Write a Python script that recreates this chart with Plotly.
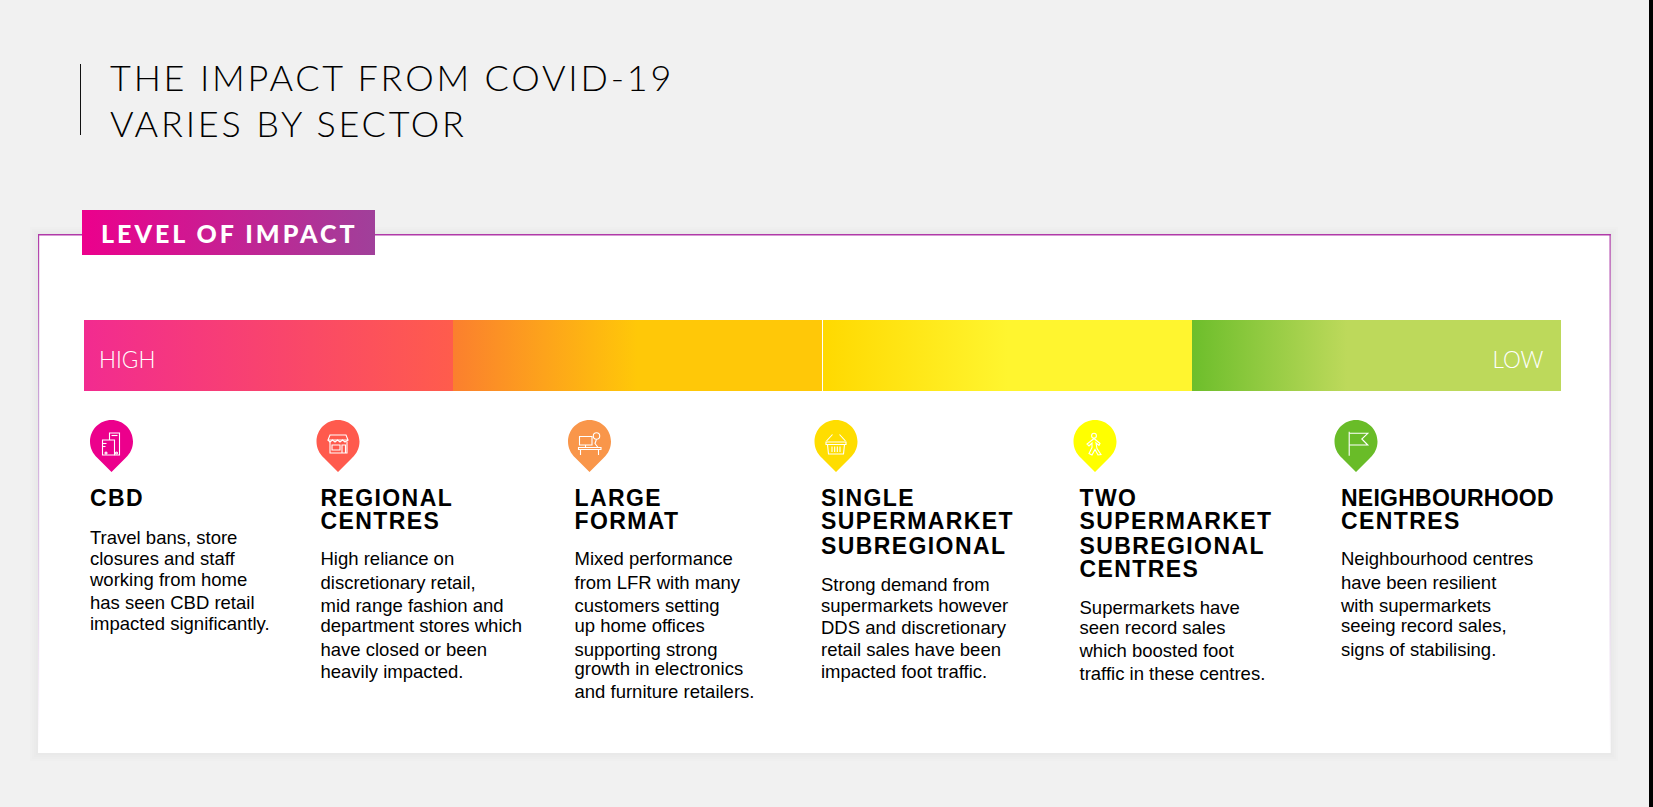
import plotly.graph_objects as go

# page is laid out in screenshot pixels
W = 1653
H = 807

title_lines = ["THE IMPACT FROM COVID-19", "VARIES BY SECTOR"]
tag_label = "LEVEL OF IMPACT"
scale_labels = ["HIGH", "LOW"]

sectors = [
    ["CBD"],
    ["REGIONAL", "CENTRES"],
    ["LARGE", "FORMAT"],
    ["SINGLE", "SUPERMARKET", "SUBREGIONAL"],
    ["TWO", "SUPERMARKET", "SUBREGIONAL", "CENTRES"],
    ["NEIGHBOURHOOD", "CENTRES"],
]
descriptions = [
    ["Travel bans, store", "closures and staff", "working from home", "has seen CBD retail", "impacted significantly."],
    ["High reliance on", "discretionary retail,", "mid range fashion and", "department stores which", "have closed or been", "heavily impacted."],
    ["Mixed performance", "from LFR with many", "customers setting", "up home offices", "supporting strong", "growth in electronics", "and furniture retailers."],
    ["Strong demand from", "supermarkets however", "DDS and discretionary", "retail sales have been", "impacted foot traffic."],
    ["Supermarkets have", "seen record sales", "which boosted foot", "traffic in these centres."],
    ["Neighbourhood centres", "have been resilient", "with supermarkets", "seeing record sales,", "signs of stabilising."],
]
pin_colours = ["#EC008C", "#FF5A4D", "#F9964A", "#FFDD00", "#FFFF00", "#69BC28"]
icon_names = ["phones", "store", "desk", "basket", "walker", "flag"]

# positions
pin_x = [111.5, 338, 589.5, 836, 1095, 1356]
text_x = [90, 320.5, 574.5, 821, 1079.5, 1341]
heading_base = [506, 529, 554, 577]
body_base = [
    [543.5, 564.5, 585.5, 608.5, 629.5],
    [564.5, 588.5, 611.5, 631.5, 655.5, 677.5],
    [564.5, 588.5, 611.5, 631.5, 655.5, 674.5, 697.5],
    [590.5, 611.5, 633.5, 655.5, 677.5],
    [613.5, 633.5, 656.5, 679.5],
    [564.5, 588.5, 611.5, 631.5, 655.5],
]

# scale bar: left edge, right edge, start colour, end colour, where the ramp ends
bar_edges = [84, 453, 823, 1192, 1561]
bar_from = ["#F22B90", "#FB7F2E", "#FFD900", "#6DBE2B"]
bar_to = ["#FF5C4C", "#FFC808", "#FFF52F", "#BDD95B"]
bar_ramp = [1.0, 0.5, 0.5, 0.42]

TITLE_SIZE = 36
TAG_SIZE = 25
SCALE_SIZE = 22.5
HEAD_SIZE = 23
BODY_SIZE = 18.5
TRACKING = {TITLE_SIZE: 2.8, TAG_SIZE: 3.0, HEAD_SIZE: 1.4}
WIDE_WORD_TRACKING = {"NEIGHBOURHOOD": 0.25}
CARD_BOTTOM = 753

fig = go.Figure()


def add_fill(x0, y0, x1, y1, gradient):
    fig.add_trace(go.Scatter(
        x=[x0, x1, x1, x0, x0], y=[y0, y0, y1, y1, y0],
        mode="lines", line=dict(width=0), fill="toself", fillgradient=gradient,
        hoverinfo="skip", showlegend=False))


def add_text(xs, bases, labels, size, colour, family, weight):
    fig.add_trace(go.Scatter(
        x=xs, y=[b - 0.25 * size for b in bases], text=labels,
        mode="text", textposition="middle right",
        textfont=dict(size=size, color=colour, family=family, weight=weight),
        hoverinfo="skip", showlegend=False))


def pin_path(cx):
    # teardrop: round head on top, straight sides down to the tip
    r = 21.5
    cy = 441.5
    k = r * 0.552
    return (f"M {cx} 472 L {cx - 14} 458 "
            f"C {cx - 19} {cy + 12} {cx - r} {cy + 6} {cx - r} {cy} "
            f"C {cx - r} {cy - k} {cx - k} {cy - r} {cx} {cy - r} "
            f"C {cx + k} {cy - r} {cx + r} {cy - k} {cx + r} {cy} "
            f"C {cx + r} {cy + 6} {cx + 19} {cy + 12} {cx + 14} 458 Z")


def poly(points, closed=False):
    s = "M " + " L ".join(f"{x} {y}" for x, y in points)
    return s + (" Z" if closed else "")


def ring(x, y, r):
    k = r * 0.552
    return (f"M {x - r} {y} C {x - r} {y - k} {x - k} {y - r} {x} {y - r} "
            f"C {x + k} {y - r} {x + r} {y - k} {x + r} {y} "
            f"C {x + r} {y + k} {x + k} {y + r} {x} {y + r} "
            f"C {x - k} {y + r} {x - r} {y + k} {x - r} {y} Z")


# icon outlines, relative to the centre of the pin head
ICONS = {
    "phones": [
        poly([(-2, -1.5), (-9, -1.5), (-9, 13.5), (3, 13.5), (3, -1.5), (-2, -1.5)]),
        poly([(-2, -1.5), (-2, -8.5), (8, -8.5), (8, 13.5), (3, 13.5)]),
        poly([(0, -6), (6, -6)]), poly([(-9, 2), (-5, 2)]), poly([(-9, 5), (-6, 5)]),
        ring(-5.5, 11.5, 1), ring(5, 11.5, 1),
    ],
    "store": [
        poly([(-8, -6.5), (8, -6.5), (10, -1.5), (-10, -1.5)], True),
        poly([(-8, 0), (-8, 11.5), (9, 11.5), (9, 0)]),
        poly([(-10, -1.5), (-8, 0.5), (-5.5, -1.5), (-3, 0.5), (-0.5, -1.5), (2, 0.5), (4.5, -1.5), (7, 0.5), (10, -1.5)]),
        poly([(-6, 3.5), (2, 3.5), (2, 8.5), (-6, 8.5)], True),
        poly([(4, 11.5), (4, 3.5), (7.5, 3.5), (7.5, 11.5)]),
    ],
    "desk": [
        poly([(-10, -5), (2.5, -5), (2.5, 3.5), (-10, 3.5)], True),
        poly([(-4, 3.5), (-4, 6)]),
        poly([(-11, 6), (11.5, 6), (11.5, 8), (-11, 8)], True),
        poly([(-9, 8), (-9, 13.5)]), poly([(9, 8), (9, 13.5)]),
        ring(7, -5.5, 3.2),
        poly([(7, -2.3), (5.5, 2), (8.5, 6)]),
    ],
    "basket": [
        poly([(-3.5, -7), (-9.5, -0.5)]), poly([(3.5, -7), (9.5, -0.5)]),
        poly([(-10, 0.5), (10, 0.5), (10, 3), (-10, 3)], True),
        poly([(-8.5, 3), (-7.5, 12.5), (7.5, 12.5), (8.5, 3)]),
        poly([(-4, 5), (-4, 10.5)]), poly([(-1.3, 5), (-1.3, 10.5)]),
        poly([(1.3, 5), (1.3, 10.5)]), poly([(4, 5), (4, 10.5)]),
    ],
    "walker": [
        ring(-1, -5.8, 2.4),
        poly([(-1, -3), (5, 2), (4, 4), (1, 1.5), (2, 7), (6, 13), (3, 13.5), (0, 8),
              (-3, 13.5), (-6, 12), (-3, 6), (-3, 1.5), (-6, 4.5), (-8, 2.5)], True),
    ],
    "flag": [
        poly([(-6.8, -9.8), (-6.8, 14.2)]),
        poly([(-6.8, -8.2), (11.8, -8.2), (5.8, -2.5), (11.8, 3.5), (-6.8, 3.5)]),
    ],
}


def shifted(path, dx, dy):
    # move an icon path from pin-relative to page coordinates
    out = []
    is_x = True
    for t in path.split():
        if t.isalpha():
            out.append(t)
            is_x = True
        else:
            out.append(str(float(t) + (dx if is_x else dy)))
            is_x = not is_x
    return " ".join(out)


shapes = []
# soft shadow round the card, then the card
for grow in [8, 6, 4, 2]:
    shapes.append(dict(type="rect", x0=38 - grow, x1=1610 + grow, y0=235 - grow, y1=CARD_BOTTOM + grow,
                       fillcolor="rgba(0,0,0,0.007)", line_width=0, layer="below"))
shapes.append(dict(type="rect", x0=38, x1=1610, y0=235, y1=CARD_BOTTOM, fillcolor="#FFFFFF", line_width=0, layer="below"))
# rule beside the title
shapes.append(dict(type="rect", x0=80, x1=81, y0=64, y1=135, fillcolor="#111111", line_width=0, layer="below"))
# dark strip on the right of the page
shapes.append(dict(type="rect", x0=1649, x1=W, y0=0, y1=H, fillcolor="#000000", line_width=0, layer="below"))

# card border fades out towards the bottom
side_fade = dict(type="vertical", start=234, stop=CARD_BOTTOM,
                 colorscale=[[0, "#B03AA8"], [0.3, "#C9A0D5"], [0.7, "#E6D4EC"], [1, "#FFFFFF"]])
add_fill(38, 234, 39.2, CARD_BOTTOM, side_fade)
add_fill(1609.5, 234, 1610.7, CARD_BOTTOM, side_fade)
add_fill(38, 234, 1610.7, 235.5, dict(type="horizontal", colorscale=[[0, "#B03AA8"], [1, "#B03AA8"]]))

# tag
add_fill(82, 210, 375, 255, dict(type="horizontal", colorscale=[[0, "#EC008C"], [1, "#A0409A"]]))

# scale bar
for i in range(len(bar_from)):
    add_fill(bar_edges[i], 320, bar_edges[i + 1] - (1 if i == 1 else 0), 391,
             dict(type="horizontal", colorscale=[[0, bar_from[i]], [bar_ramp[i], bar_to[i]], [1, bar_to[i]]]))

# pins and icons
for i, cx in enumerate(pin_x):
    shapes.append(dict(type="path", path=pin_path(cx), fillcolor=pin_colours[i], line_width=0, layer="above"))
    for part in ICONS[icon_names[i]]:
        shapes.append(dict(type="path", path=shifted(part, cx, 441.5),
                           line=dict(color="#FFFFFF", width=1.1), layer="above"))

# text
add_text([110, 110], [91, 137], title_lines, TITLE_SIZE, "#000000", "Lato", 300)
add_text([101], [243], [tag_label], TAG_SIZE, "#FFFFFF", "Lato Black, Lato", 900)
add_text([99, 1492.5], [368, 368], scale_labels, SCALE_SIZE, "#FFFFFF", "Lato", 300)
for i in range(len(sectors)):
    add_text([text_x[i]] * len(sectors[i]), heading_base[:len(sectors[i])], sectors[i],
             HEAD_SIZE, "#000000", "Liberation Sans", 700)
    add_text([text_x[i]] * len(descriptions[i]), body_base[i], descriptions[i],
             BODY_SIZE, "#000000", "Liberation Sans", 400)

fig.update_layout(
    width=W, height=H,
    margin=dict(l=0, r=0, t=0, b=0),
    paper_bgcolor="#F1F1F1", plot_bgcolor="#F1F1F1",
    xaxis=dict(range=[0, W], visible=False, fixedrange=True),
    yaxis=dict(range=[H, 0], visible=False, fixedrange=True),
    shapes=shapes,
    showlegend=False,
)

# plotly has no letter spacing setting, and the page body has a default margin
track_js = ",".join(f'"{k}":{v}' for k, v in TRACKING.items())
word_js = ",".join(f'"{k}":{v}' for k, v in WIDE_WORD_TRACKING.items())
post = (
    "document.body.style.margin='0';document.body.style.overflow='hidden';"
    "var track={" + track_js + "};var words={" + word_js + "};"
    "document.querySelectorAll('.textpoint text').forEach(function(t){"
    "var v=words[t.textContent]||track[String(parseFloat(t.style.fontSize))];"
    "if(v){t.style.letterSpacing=v+'px';}});"
)
fig.write_html("out.html", post_script=post, config={"displayModeBar": False})
